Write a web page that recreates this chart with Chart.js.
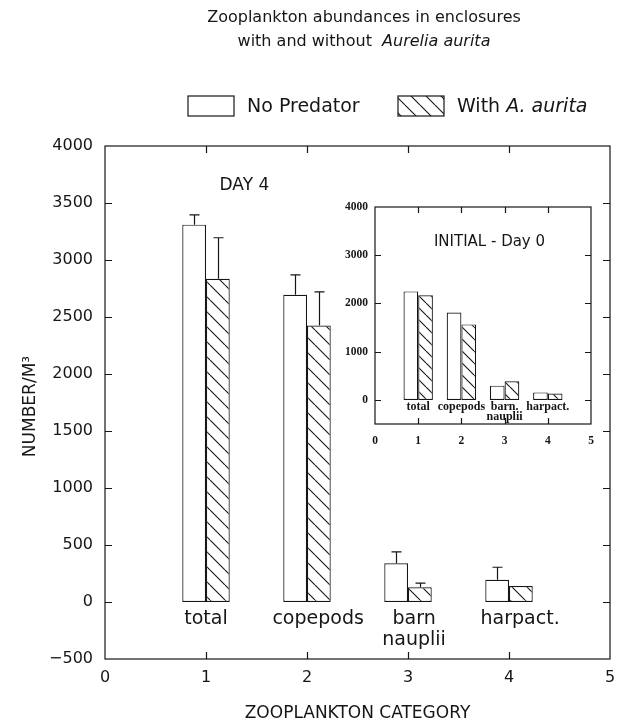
<!DOCTYPE html>
<html>
<head>
<meta charset="utf-8">
<script src="https://cdn.jsdelivr.net/npm/chart.js@4.4.0/dist/chart.umd.min.js"></script>
<style>
  html, body { margin: 0; padding: 0; background: #fff; }
  #wrap { position: relative; width: 617px; height: 725px; }
  #main { position: absolute; left: 0; top: 0; }
  #inset { position: absolute; left: 330px; top: 195px; }
</style>
</head>
<body>
<div id="wrap">
  <canvas id="main" width="617" height="725"></canvas>
  <canvas id="inset" width="270" height="260"></canvas>
</div>
<script>
// category positions on the x axis and their labels
const categoryX = [1, 2, 3, 4];
const categoryLabels = [['total'], ['copepods'], ['barn', 'nauplii'], ['harpact.']];
const insetLabels = [['total'], ['copepods'], ['barn.', 'nauplii'], ['harpact.']];

// DAY 4 (main chart), number per m3, with error bars (upper half only)
const day4NoPredator = [3310, 2695, 340, 195];
const day4NoPredatorErr = [85, 175, 100, 110];
const day4WithAurita = [2835, 2425, 130, 140];
const day4WithAuritaErr = [360, 295, 35, 0];

// INITIAL - Day 0 (inset)
const day0NoPredator = [2250, 1810, 295, 155];
const day0WithAurita = [2170, 1565, 385, 130];

// tick values
const xTicks = [0, 1, 2, 3, 4, 5];
const mainYTicks = [-500, 0, 500, 1000, 1500, 2000, 2500, 3000, 3500, 4000];
const insetYTicks = [0, 1000, 2000, 3000, 4000];

const INK = '#161616';
const SANS = '"DejaVu Sans", sans-serif';
const SERIF = '"Liberation Serif", serif';

// the printed labels under the main bars sit a little right of the category
const mainLabelNudge = [0, 0.11, 0.06, 0.11];

function hatch(step) {
    const c = document.createElement('canvas');
    c.width = step;
    c.height = step;
    const g = c.getContext('2d');
    g.fillStyle = '#fff';
    g.fillRect(0, 0, step, step);
    g.strokeStyle = INK;
    g.lineWidth = 1.1;
    g.beginPath();
    for (let k = -1; k <= 1; k++) {
        g.moveTo(k * step, 0);
        g.lineTo(k * step + step, step);
    }
    g.stroke();
    return g.createPattern(c, 'repeat');
}

function points(values) {
    return categoryX.map((x, i) => ({ x: x, y: values[i] }));
}

function fmt(v) {
    return v < 0 ? '\u2212' + Math.abs(v) : String(v);
}

// box around the plot and inward tick marks
function drawFrame(chart, tickLen) {
    const { ctx, chartArea: a, scales: { x, y } } = chart;
    ctx.save();
    ctx.strokeStyle = INK;
    ctx.lineWidth = 1.2;
    ctx.strokeRect(a.left, a.top, a.right - a.left, a.bottom - a.top);
    ctx.beginPath();
    y.ticks.forEach(t => {
        const py = Math.round(y.getPixelForValue(t.value)) + 0.5;
        if (py <= a.top + 1 || py >= a.bottom - 1) return;
        ctx.moveTo(a.left, py); ctx.lineTo(a.left + tickLen, py);
        ctx.moveTo(a.right, py); ctx.lineTo(a.right - tickLen, py);
    });
    x.ticks.forEach(t => {
        const px = Math.round(x.getPixelForValue(t.value)) + 0.5;
        if (px <= a.left + 1 || px >= a.right - 1) return;
        ctx.moveTo(px, a.bottom); ctx.lineTo(px, a.bottom - tickLen);
        ctx.moveTo(px, a.top); ctx.lineTo(px, a.top + tickLen);
    });
    ctx.stroke();
    ctx.restore();
}

function drawErrorBars(chart, errs, cap) {
    const ctx = chart.ctx;
    const y = chart.scales.y;
    ctx.save();
    ctx.strokeStyle = INK;
    ctx.lineWidth = 1.2;
    ctx.beginPath();
    errs.forEach((err, di) => {
        const meta = chart.getDatasetMeta(di);
        meta.data.forEach((bar, j) => {
            if (!err[j]) return;
            const v = chart.data.datasets[di].data[j].y;
            const top = y.getPixelForValue(v + err[j]);
            const cx = Math.round(bar.x) + 0.5;
            ctx.moveTo(cx, bar.y);
            ctx.lineTo(cx, top);
            ctx.moveTo(cx - cap / 2, top);
            ctx.lineTo(cx + cap / 2, top);
        });
    });
    ctx.stroke();
    ctx.restore();
}

function drawCategoryLabels(chart, labels, nudge, font, firstOffset, lineHeight) {
    const { ctx, scales: { x, y } } = chart;
    const y0 = y.getPixelForValue(0);
    ctx.save();
    ctx.fillStyle = INK;
    ctx.font = font;
    ctx.textAlign = 'center';
    ctx.textBaseline = 'middle';
    labels.forEach((lines, i) => {
        const px = x.getPixelForValue(categoryX[i] + (nudge ? nudge[i] : 0));
        lines.forEach((line, k) => {
            ctx.fillText(line, px, y0 + firstOffset + k * lineHeight);
        });
    });
    ctx.restore();
}

// text made of parts in different fonts (for the italic species names)
function richText(ctx, parts, x, y, align) {
    let w = 0;
    parts.forEach(p => { ctx.font = p.font; w += ctx.measureText(p.text).width; });
    let px = align === 'center' ? x - w / 2 : x;
    parts.forEach(p => {
        ctx.font = p.font;
        ctx.fillText(p.text, px, y);
        px += ctx.measureText(p.text).width;
    });
}

const mainHatch = hatch(15);
const insetHatch = hatch(12);

const mainDecor = {
    id: 'mainDecor',
    afterDatasetsDraw(chart) {
        drawFrame(chart, 7);
        drawErrorBars(chart, [day4NoPredatorErr, day4WithAuritaErr], 10);
        drawCategoryLabels(chart, categoryLabels, mainLabelNudge, '19px ' + SANS, 17, 21);
    },
    afterDraw(chart) {
        const ctx = chart.ctx;
        const a = chart.chartArea;
        ctx.save();
        ctx.fillStyle = INK;
        ctx.textBaseline = 'middle';
        ctx.textAlign = 'left';
        const f = '16px ' + SANS, fi = 'italic 16px ' + SANS;
        richText(ctx, [{ text: 'Zooplankton abundances in enclosures', font: f }], 364, 18, 'center');
        richText(ctx, [{ text: 'with and without  ', font: f }, { text: 'Aurelia aurita', font: fi }], 364, 42, 'center');

        // legend
        const lf = '19px ' + SANS, lfi = 'italic 19px ' + SANS;
        ctx.lineWidth = 1.2;
        ctx.strokeStyle = INK;
        ctx.fillStyle = '#fff';
        ctx.fillRect(188, 96, 46, 20);
        ctx.strokeRect(188, 96, 46, 20);
        ctx.fillStyle = mainHatch;
        ctx.fillRect(398, 96, 46, 20);
        ctx.strokeRect(398, 96, 46, 20);
        ctx.fillStyle = INK;
        richText(ctx, [{ text: 'No Predator', font: lf }], 247, 107, 'left');
        richText(ctx, [{ text: 'With ', font: lf }, { text: 'A. aurita', font: lfi }], 457, 107, 'left');

        // panel text
        ctx.font = '17px ' + SANS;
        ctx.textAlign = 'center';
        ctx.fillText('DAY 4', chart.scales.x.getPixelForValue(1.38), 186);

        // axis titles
        ctx.font = '17px ' + SANS;
        ctx.fillText('ZOOPLANKTON CATEGORY', (a.left + a.right) / 2, 714);
        ctx.translate(31, (a.top + a.bottom) / 2 + 4);
        ctx.rotate(-Math.PI / 2);
        ctx.fillText('NUMBER/M\u00B3', 0, 0);
        ctx.restore();
    }
};

const insetDecor = {
    id: 'insetDecor',
    afterDatasetsDraw(chart) {
        drawFrame(chart, 6);
        drawCategoryLabels(chart, insetLabels, null, 'bold 12px ' + SERIF, 7, 10);
        const ctx = chart.ctx;
        ctx.save();
        ctx.fillStyle = INK;
        ctx.font = '15px ' + SANS;
        ctx.textAlign = 'center';
        ctx.textBaseline = 'middle';
        ctx.fillText('INITIAL - Day 0', chart.scales.x.getPixelForValue(2.65), 47);
        ctx.restore();
    }
};

function barSet(label, values, fill, pct) {
    return {
        label: label,
        data: points(values),
        backgroundColor: fill,
        borderColor: INK,
        borderWidth: 1.2,
        borderSkipped: false,
        categoryPercentage: pct,
        barPercentage: 1
    };
}

function scaleOpts(yTicks, yMin, yMax, yWidth, xHeight, font, yPad, xPad) {
    return {
        x: {
            type: 'linear', min: 0, max: 5, offset: false,
            afterBuildTicks: s => { s.ticks = xTicks.map(v => ({ value: v })); },
            afterFit: s => { s.height = xHeight; s.paddingLeft = 0; s.paddingRight = 0; },
            ticks: { font: font, color: INK, padding: xPad, callback: v => String(v), maxRotation: 0 },
            grid: { display: false, drawTicks: false, offset: false },
            border: { display: false }
        },
        y: {
            min: yMin, max: yMax,
            afterBuildTicks: s => { s.ticks = yTicks.map(v => ({ value: v })); },
            afterFit: s => { s.width = yWidth; s.paddingTop = 0; s.paddingBottom = 0; },
            ticks: { font: font, color: INK, padding: yPad, callback: v => fmt(v) },
            grid: { display: false, drawTicks: false },
            border: { display: false }
        }
    };
}

new Chart(document.getElementById('main'), {
    type: 'bar',
    data: {
        datasets: [
            barSet('No Predator', day4NoPredator, '#fff', 0.47),
            barSet('With A. aurita', day4WithAurita, mainHatch, 0.47)
        ]
    },
    options: {
        responsive: false,
        animation: false,
        layout: { padding: { top: 146, right: 7, left: 0, bottom: 0 } },
        plugins: { legend: { display: false }, tooltip: { enabled: false } },
        scales: scaleOpts(mainYTicks, -500, 4000, 105, 66, { family: SANS, size: 16 }, 12, 9)
    },
    plugins: [mainDecor]
});

new Chart(document.getElementById('inset'), {
    type: 'bar',
    data: {
        datasets: [
            barSet('No Predator', day0NoPredator, '#fff', 0.68),
            barSet('With A. aurita', day0WithAurita, insetHatch, 0.68)
        ]
    },
    options: {
        responsive: false,
        animation: false,
        layout: { padding: { top: 12, right: 9, left: 0, bottom: 0 } },
        plugins: { legend: { display: false }, tooltip: { enabled: false } },
        scales: scaleOpts(insetYTicks, -500, 4000, 45, 31, { family: SERIF, size: 11.5, weight: 'bold' }, 7, 10)
    },
    plugins: [insetDecor]
});
</script>
</body>
</html>
